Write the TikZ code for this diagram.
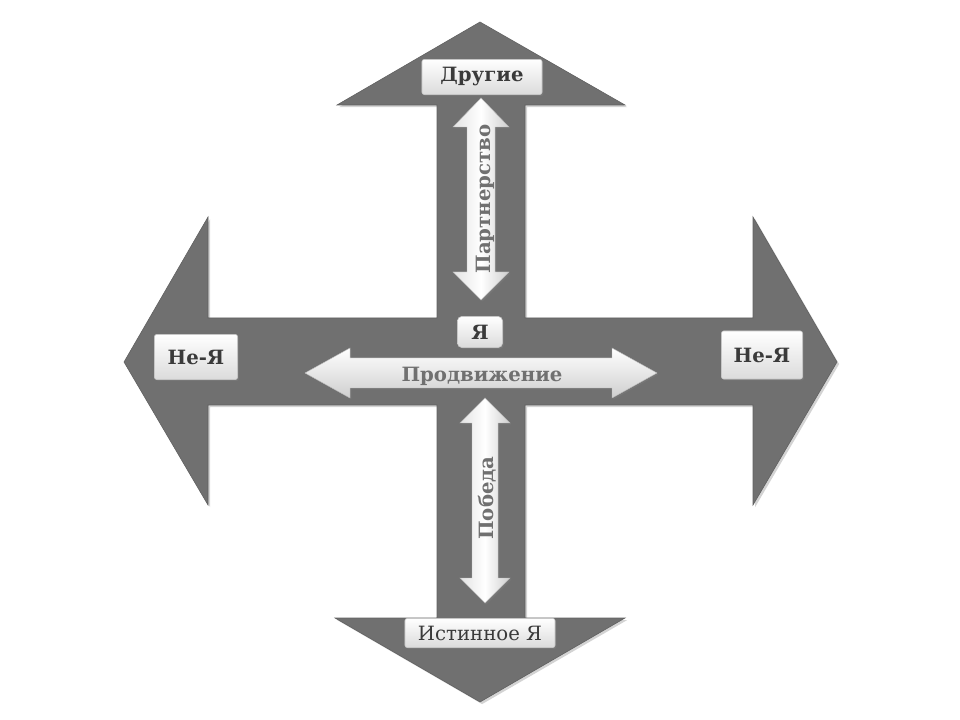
\documentclass[tikz,border=0pt]{standalone}
\usepackage{fontspec}
\setmainfont{DejaVu Serif}
\usetikzlibrary{shadows}

\definecolor{crossgray}{RGB}{112,112,112}
\definecolor{tagtext}{RGB}{58,58,58}
\definecolor{axistext}{RGB}{112,112,112}

\tikzset{
  bigarrow/.style={fill=crossgray, draw=crossgray!85!black, line width=0.4pt,
    drop shadow={opacity=0.35, shadow xshift=1.5pt, shadow yshift=-1.5pt}},
  lightarrow/.style={draw=gray!55, line width=0.3pt,
    drop shadow={opacity=0.4, shadow xshift=1pt, shadow yshift=-1pt}},
  tagbox/.style={rectangle, rounded corners=1.5pt, top color=white, bottom color=gray!28,
    draw=gray!45, inner sep=0pt, text=tagtext, font=\bfseries\fontsize{14}{17}\selectfont,
    drop shadow={opacity=0.45, shadow xshift=1pt, shadow yshift=-1pt}},
  axislabel/.style={text=axistext, font=\bfseries\fontsize{14}{16}\selectfont, inner sep=0pt}
}

\begin{document}
\begin{tikzpicture}[x=0.025cm, y=-0.025cm]
    \useasboundingbox (0,0) rectangle (960,720);
    % the cross of four dark arrows
    \path[bigarrow] (124,362) -- (208,217) -- (208,318) -- (437,318) -- (437,105)
        -- (337,105) -- (480,22) -- (625,105) -- (525,105) -- (525,318)
        -- (753,318) -- (753,217) -- (837,362) -- (753,505) -- (753,405)
        -- (525,405) -- (525,618) -- (625,618) -- (480,702) -- (335,618)
        -- (437,618) -- (437,405) -- (208,405) -- (208,505) -- cycle;
    % light double arrows
    \path[lightarrow, top color=white, bottom color=gray!38]
        (305,373) -- (350,348) -- (350,358) -- (612,358) -- (612,348) -- (657,373)
        -- (612,398) -- (612,388) -- (350,388) -- (350,398) -- cycle;
    \path[lightarrow, left color=gray!22, right color=gray!38, middle color=white]
        (481,98) -- (509,127) -- (495,127) -- (495,272) -- (509,272) -- (481,300)
        -- (453,272) -- (467,272) -- (467,127) -- (453,127) -- cycle;
    \path[lightarrow, left color=gray!22, right color=gray!38, middle color=white]
        (485,398) -- (510,423) -- (498,423) -- (498,578) -- (510,578) -- (485,603)
        -- (460,578) -- (472,578) -- (472,423) -- (460,423) -- cycle;
    % labels
    \node[tagbox, minimum width=3cm, minimum height=0.875cm]     (others)  at (482,77)  {Другие};
    \node[tagbox, minimum width=2.075cm, minimum height=1.125cm] (notmeL)  at (196,357) {Не-Я};
    \node[tagbox, minimum width=2.025cm, minimum height=1.2cm]   (notmeR)  at (762,355) {Не-Я};
    \node[tagbox, rounded corners=3pt, minimum width=1.125cm, minimum height=0.775cm] (me) at (480,332) {Я};
    \node[tagbox, minimum width=3.75cm, minimum height=0.725cm, font=\fontsize{14}{17}\selectfont] (trueme) at (480,633) {Истинное Я};
    \node[axislabel]             (advance) at (482,376) {Продвижение};
    \node[axislabel, rotate=90]  (partner) at (485,199) {Партнерство};
    \node[axislabel, rotate=90]  (victory) at (487,498) {Победа};
\end{tikzpicture}
\end{document}
